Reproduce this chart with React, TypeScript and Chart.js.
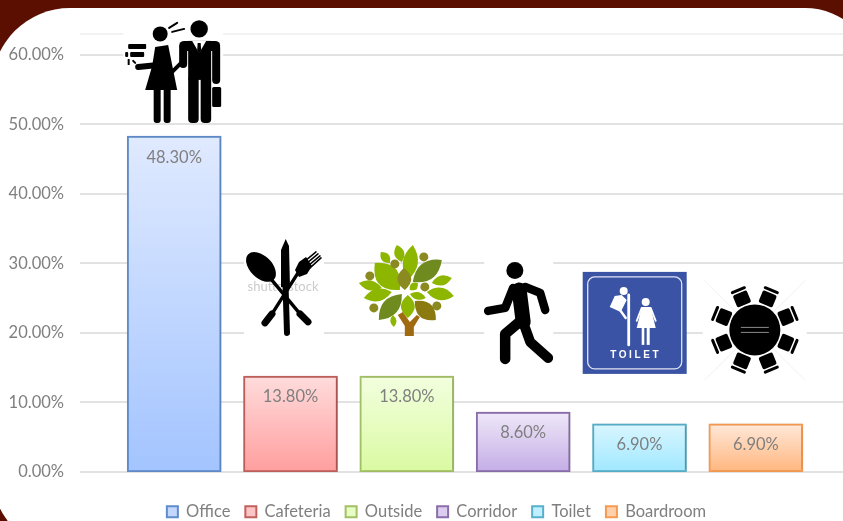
import React, { useEffect, useRef } from "react";
import { Chart, registerables } from "chart.js";

Chart.register(...registerables);

const categories = ["Office", "Cafeteria", "Outside", "Corridor", "Toilet", "Boardroom"];
const shares = [48.3, 13.8, 13.8, 8.6, 6.9, 6.9];
const topColors = ["#e0eaff", "#ffdcdc", "#f2ffdf", "#efe8f8", "#d9f6ff", "#ffe8d9"];
const bottomColors = ["#a3c4ff", "#ff9e9e", "#dafaa2", "#c4ade6", "#a0e8ff", "#ffb67e"];
const legendColors = ["#c3d7ff", "#ffc4c4", "#e8fdc4", "#dccdef", "#c0f0ff", "#ffd0ac"];
const borderColors = ["#5f8cca", "#c2605c", "#a2c064", "#8a6eaa", "#56b0ca", "#f79a50"];
const FONT = "Lato";
const FONT_SIZE = 16.5;
const GREY = "#7f7f7f";
const MAROON = "#5a0f00";

type Ctx = CanvasRenderingContext2D;

function stroke(c: Ctx, pts: number[][], w: number, color = "#000") {
  c.save();
  c.strokeStyle = color;
  c.lineWidth = w;
  c.lineCap = "round";
  c.lineJoin = "round";
  c.beginPath();
  pts.forEach((p, i) => (i ? c.lineTo(p[0], p[1]) : c.moveTo(p[0], p[1])));
  c.stroke();
  c.restore();
}
function poly(c: Ctx, pts: number[][], color = "#000") {
  c.fillStyle = color;
  c.beginPath();
  pts.forEach((p, i) => (i ? c.lineTo(p[0], p[1]) : c.moveTo(p[0], p[1])));
  c.closePath();
  c.fill();
}
function disc(c: Ctx, x: number, y: number, r: number, color = "#000") {
  c.fillStyle = color;
  c.beginPath();
  c.arc(x, y, r, 0, Math.PI * 2);
  c.fill();
}
function rrect(c: Ctx, x: number, y: number, w: number, h: number, r: number, color = "#000") {
  c.fillStyle = color;
  c.beginPath();
  c.roundRect(x, y, w, h, r);
  c.fill();
}
function leaf(c: Ctx, x1: number, y1: number, x2: number, y2: number, w: number, color: string) {
  const mx = (x1 + x2) / 2, my = (y1 + y2) / 2;
  const dx = x2 - x1, dy = y2 - y1;
  const len = Math.hypot(dx, dy) || 1;
  const nx = (-dy / len) * w, ny = (dx / len) * w;
  c.fillStyle = color;
  c.beginPath();
  c.moveTo(x1, y1);
  c.quadraticCurveTo(mx + nx, my + ny, x2, y2);
  c.quadraticCurveTo(mx - nx, my - ny, x1, y1);
  c.fill();
}

function officeIcon(c: Ctx) {
  c.fillStyle = "#fff";
  c.fillRect(123, 21, 100, 102);
  disc(c, 160, 34, 7.5);
  disc(c, 199, 29, 8.7);
  stroke(c, [[169, 28], [177, 23]], 2);
  stroke(c, [[172, 32], [184, 29]], 2);
  poly(c, [[155, 47], [168, 45], [177, 90], [145, 90], [152, 66]]);
  stroke(c, [[163, 52], [158, 65], [138, 67]], 6);
  rrect(c, 153.5, 86, 7, 37, 3);
  rrect(c, 163.5, 86, 7, 37, 3);
  stroke(c, [[182, 62], [172, 72]], 4);
  rrect(c, 179, 41, 41, 10, 5);
  rrect(c, 179, 44, 8, 24, 4);
  rrect(c, 212, 44, 8, 40, 4);
  poly(c, [[188, 41], [211, 41], [211, 80], [188, 80]]);
  rrect(c, 188, 76, 10.5, 47, 4);
  rrect(c, 200.5, 76, 10.5, 47, 4);
  poly(c, [[192, 41], [206, 41], [199, 53]], "#fff");
  poly(c, [[197.5, 43], [200.5, 43], [201, 50], [199, 54], [197, 50]]);
  rrect(c, 212, 87, 9, 20, 1.5);
  rrect(c, 128, 44, 18, 5, 1);
  rrect(c, 125, 52, 3, 5, 1);
  rrect(c, 130, 52, 14, 5, 1);
  rrect(c, 127.5, 59, 2, 6, 0.5);
  stroke(c, [[133, 61], [135, 63]], 2);
}

function cafeteriaIcon(c: Ctx) {
  c.fillStyle = "#fff";
  c.fillRect(244, 239, 80, 99);
  c.fillStyle = "#cccccc";
  c.font = `13px ${FONT}`;
  c.textAlign = "center";
  c.textBaseline = "middle";
  c.fillText("shutterstock", 283, 287);
  c.save();
  c.translate(261, 267);
  c.rotate(Math.PI / 4);
  c.fillStyle = "#000";
  c.beginPath();
  c.ellipse(0, 0, 18, 11, 0, 0, Math.PI * 2);
  c.fill();
  c.restore();
  stroke(c, [[270, 278], [300, 314]], 3.4);
  stroke(c, [[300, 314], [308, 322]], 7);
  poly(c, [[285.7, 239], [289, 246], [290, 287], [281, 287], [281, 250]]);
  stroke(c, [[285.5, 285], [287, 333]], 6);
  stroke(c, [[298, 273], [272, 314]], 3.4);
  stroke(c, [[272, 314], [265, 323]], 7);
  poly(c, [[295, 270], [299, 262], [306, 257], [312, 266], [307, 274], [299, 277]]);
  stroke(c, [[304, 262], [316, 252]], 1.5);
  stroke(c, [[306, 264], [318, 254]], 1.5);
  stroke(c, [[308, 266], [320, 256]], 1.5);
  stroke(c, [[310, 268], [321, 258]], 1.5);
}

function outsideIcon(c: Ctx) {
  const lime = "#8db600", olive = "#6f8a1e", moss = "#8a8a20", bronze = "#8a7a10";
  const k = 1.25;
  poly(c, [[405, 336], [414, 336], [414, 327], [420, 317], [417, 315], [410, 322], [403, 312], [398, 315], [405, 326]], "#a06a10");
  leaf(c, 400, 290, 375, 263, 18 * k, lime);
  leaf(c, 408, 280, 413, 245, 12 * k, lime);
  leaf(c, 402, 262, 397, 245, 8 * k, lime);
  leaf(c, 390, 263, 381, 252, 7 * k, lime);
  leaf(c, 413, 282, 442, 260, 14 * k, olive);
  leaf(c, 405, 290, 404, 268, 11 * k, moss);
  leaf(c, 432, 283, 452, 278, 8 * k, lime);
  leaf(c, 410, 290, 418, 283, 6 * k, lime);
  leaf(c, 427, 292, 454, 296, 10 * k, lime);
  leaf(c, 410, 294, 426, 298, 6 * k, lime);
  leaf(c, 382, 288, 359, 283, 8 * k, lime);
  leaf(c, 392, 292, 364, 298, 10 * k, lime);
  leaf(c, 402, 294, 379, 320, 13 * k, olive);
  leaf(c, 408, 295, 408, 318, 11 * k, lime);
  leaf(c, 415, 301, 436, 320, 13 * k, bronze);
  leaf(c, 393, 315, 394, 327, 5 * k, lime);
  [[395, 264], [424, 257], [370, 276], [425, 287], [374, 308], [437, 306]].forEach((p) => disc(c, p[0], p[1], 4.5, moss));
}

function corridorIcon(c: Ctx) {
  c.fillStyle = "#fff";
  c.fillRect(484, 262, 69, 102);
  disc(c, 514.7, 270.7, 8.5);
  stroke(c, [[519, 290], [523, 322]], 15);
  stroke(c, [[513, 288], [505, 308], [488, 311]], 8.5);
  stroke(c, [[525, 287], [540, 293], [545, 310]], 8.5);
  stroke(c, [[525, 328], [530, 342], [548, 358]], 10);
  stroke(c, [[518, 323], [505, 334], [505, 359]], 10.5);
}

function toiletIcon(c: Ctx) {
  c.fillStyle = "#3a53a4";
  c.fillRect(583, 272, 104, 102);
  c.strokeStyle = "#dfe4f3";
  c.lineWidth = 1.3;
  c.beginPath();
  c.roundRect(588, 277, 94, 92, 7);
  c.stroke();
  const w = "#ffffff";
  disc(c, 624, 291, 4, w);
  stroke(c, [[629, 295], [629, 345]], 2.8, w);
  poly(c, [[615, 296], [622, 295], [627, 300], [621, 312], [610, 307]], w);
  stroke(c, [[621, 311], [626, 318]], 2.5, w);
  disc(c, 646, 302, 4, w);
  poly(c, [[642, 307], [651, 307], [656, 328], [637, 328]], w);
  stroke(c, [[642, 308], [637, 321]], 1.8, w);
  stroke(c, [[651, 308], [656, 321]], 1.8, w);
  c.fillStyle = w;
  c.fillRect(642, 328, 2.6, 17);
  c.fillRect(647, 328, 3, 17);
  c.font = "bold 10px 'Liberation Sans'";
  c.textAlign = "center";
  c.textBaseline = "middle";
  (c as any).letterSpacing = "2.6px";
  c.fillText("TOILET", 636, 355.5);
  (c as any).letterSpacing = "0px";
}

function boardroomIcon(c: Ctx) {
  c.fillStyle = "#fff";
  c.fillRect(703, 279, 104, 102);
  stroke(c, [[705, 281], [805, 380]], 1, "#f2f2f2");
  stroke(c, [[805, 281], [705, 380]], 1, "#f2f2f2");
  disc(c, 755, 330, 25.5);
  for (let i = 0; i < 8; i++) {
    const a = (Math.PI / 180) * (22.5 + 45 * i);
    c.save();
    c.translate(755, 330);
    c.rotate(a);
    rrect(c, 27, -7.5, 13, 15, 2);
    rrect(c, 41.5, -8, 3, 16, 1.5);
    c.restore();
  }
  c.fillStyle = "#8a8a8a";
  c.fillRect(741, 327, 28, 1);
  c.fillRect(741, 332, 28, 1);
}

const iconDrawers = [
  { ref: 174, draw: officeIcon },
  { ref: 290.5, draw: cafeteriaIcon },
  { ref: 407, draw: outsideIcon },
  { ref: 523, draw: corridorIcon },
  { ref: 639.8, draw: toiletIcon },
  { ref: 756, draw: boardroomIcon },
];

const framePlugin = {
  id: "frame",
  beforeDraw(chart: any) {
    const c: Ctx = chart.ctx;
    c.save();
    c.fillStyle = MAROON;
    c.fillRect(0, 0, chart.width, chart.height);
    c.fillStyle = "#fff";
    c.beginPath();
    c.roundRect(-8, 8, 884, 544, [78, 71, 71, 78]);
    c.fill();
    c.restore();
  },
  afterLayout(chart: any) {
    const dy = 16.6;
    chart.legend.top += dy;
    chart.legend.bottom += dy;
    chart.scales.y.left = 0;
  },
  beforeDatasetsDraw(chart: any) {
    const c: Ctx = chart.ctx;
    const y = chart.scales.y;
    c.save();
    y.ticks.forEach((t: any) => {
      const py = Math.round(y.getPixelForValue(t.value));
      c.strokeStyle = t.value > 60 ? "#eeeeee" : "#d9d9d9";
      c.lineWidth = 1.5;
      c.beginPath();
      c.moveTo(80, py);
      c.lineTo(chart.width, py);
      c.stroke();
    });
    c.restore();
  },
  beforeDatasetDraw(chart: any) {
    const c: Ctx = chart.ctx;
    c.save();
    c.shadowColor = "rgba(0,0,0,0.22)";
    c.shadowBlur = 3;
    c.shadowOffsetX = 1;
    c.shadowOffsetY = 0;
  },
  afterDatasetDraw(chart: any) {
    chart.ctx.restore();
  },
  afterDatasetsDraw(chart: any) {
    const c: Ctx = chart.ctx;
    const meta = chart.getDatasetMeta(0);
    const zero = chart.scales.y.getPixelForValue(0);
    c.save();
    c.font = `${FONT_SIZE}px ${FONT}`;
    c.fillStyle = GREY;
    c.textAlign = "center";
    c.textBaseline = "middle";
    meta.data.forEach((bar: any, i: number) => {
      c.fillText(`${shares[i].toFixed(2)}%`, bar.x, bar.y + 21);
    });
    c.restore();
    meta.data.forEach((bar: any, i: number) => {
      c.save();
      c.translate(bar.x - iconDrawers[i].ref, zero - 472);
      iconDrawers[i].draw(c);
      c.restore();
    });
  },
};

export default function App() {
  const ref = useRef<HTMLCanvasElement>(null);
  useEffect(() => {
    const chart = new Chart(ref.current!, {
      type: "bar",
      data: {
        labels: categories,
        datasets: [
          {
            label: "Share",
            data: shares,
            barThickness: 94,
            borderWidth: 2,
            borderSkipped: false,
            borderColor: borderColors,
            backgroundColor: (ctx: any) => {
              const { chart: ch, dataIndex, parsed } = ctx;
              if (parsed === undefined || !ch.chartArea) return topColors[dataIndex];
              const y = ch.scales.y;
              const g = ch.ctx.createLinearGradient(0, y.getPixelForValue(shares[dataIndex]), 0, y.getPixelForValue(0));
              g.addColorStop(0, topColors[dataIndex]);
              g.addColorStop(1, bottomColors[dataIndex]);
              return g;
            },
          },
        ],
      },
      options: {
        responsive: false,
        animation: false,
        layout: { padding: { left: 59, right: 29, top: 34, bottom: 7.6 } },
        scales: {
          x: { display: false },
          y: {
            min: 0,
            max: 63,
            afterFit: (s: any) => {
              s.width = 57;
              s.paddingTop = 0;
              s.paddingBottom = 0;
            },
            border: { display: false },
            grid: { display: false },
            ticks: {
              stepSize: 10,
              padding: 44,
              autoSkip: false,
              color: GREY,
              font: { family: FONT, size: FONT_SIZE },
              callback: (v: any) => (Number(v) > 60 ? "" : `${Number(v).toFixed(2)}%`),
            },
          },
        },
        plugins: {
          tooltip: { enabled: false },
          legend: {
            position: "bottom",
            labels: {
              boxWidth: 11,
              boxHeight: 11,
              padding: 15,
              color: GREY,
              font: { family: FONT, size: FONT_SIZE },
              generateLabels: () =>
                categories.map((text, i) => ({
                  text,
                  fillStyle: legendColors[i],
                  strokeStyle: borderColors[i],
                  lineWidth: 2,
                  fontColor: GREY,
                  index: i,
                  hidden: false,
                })),
            },
          },
        },
      } as any,
      plugins: [framePlugin as any],
    });
    return () => chart.destroy();
  }, []);
  return (
    <canvas
      ref={ref}
      width={843}
      height={521}
      style={{ position: "fixed", left: 0, top: 0, width: 843, height: 521, display: "block" }}
    />
  );
}
